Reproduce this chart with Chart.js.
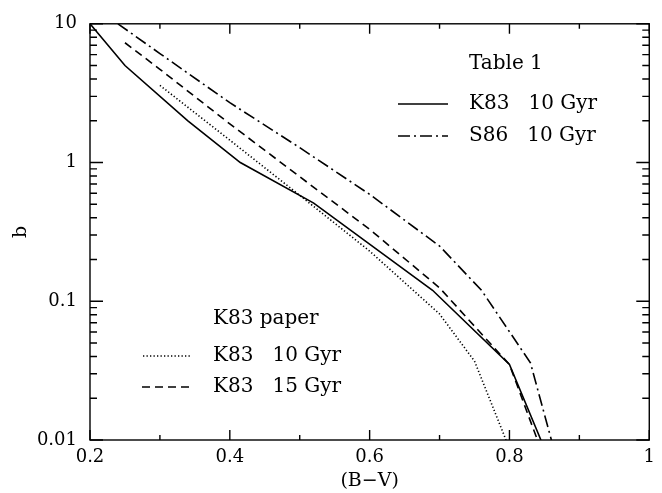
<!DOCTYPE html>
<html><head><meta charset="utf-8">
<script src="https://cdn.jsdelivr.net/npm/chart.js@4/dist/chart.umd.min.js"></script>
<style>html,body{margin:0;padding:0;background:#fff;}#wrap{width:662px;height:493px;position:relative;}</style>
</head><body><div id="wrap"><canvas id="c" width="662" height="493"></canvas></div>
<script>
// ---- data ----
const xTicks = [0.2, 0.4, 0.6, 0.8, 1.0];
const xTickLabels = ["0.2", "0.4", "0.6", "0.8", "1"];
const xMinorTicks = [0.3, 0.5, 0.7, 0.9];
const yTicks = [0.01, 0.1, 1, 10];
const yTickLabels = ["0.01", "0.1", "1", "10"];

// Table 1, K83 10 Gyr (solid)
const bvK83T1 = [0.2, 0.25, 0.34, 0.415, 0.52, 0.69, 0.80, 0.845];
const bK83T1  = [10, 5.0, 2.0, 1.0, 0.51, 0.12, 0.035, 0.01];
// Table 1, S86 10 Gyr (dash-dot)
const bvS86 = [0.24, 0.3, 0.4, 0.5, 0.6, 0.7, 0.76, 0.83, 0.86];
const bS86  = [10, 6.1, 2.7, 1.28, 0.59, 0.25, 0.12, 0.036, 0.01];
// K83 paper, 10 Gyr (dotted)
const bvK83P10 = [0.3, 0.4, 0.5, 0.6, 0.7, 0.75, 0.795];
const bK83P10  = [3.6, 1.45, 0.58, 0.23, 0.081, 0.037, 0.01];
// K83 paper, 15 Gyr (dashed)
const bvK83P15 = [0.25, 0.3, 0.4, 0.5, 0.6, 0.7, 0.8, 0.84];
const bK83P15  = [7.3, 4.7, 1.9, 0.79, 0.33, 0.125, 0.035, 0.01];

const legend1Title = "Table 1";
const legend1Labels = ["K83   10 Gyr", "S86   10 Gyr"];
const legend2Title = "K83 paper";
const legend2Labels = ["K83   10 Gyr", "K83   15 Gyr"];

const xTitle = "(B\u2212V)";
const yTitle = "b";

// ---- styles ----
const FONT = "DejaVu Serif";
const DASH_SOLID = [];
const DASH_DASHDOT = [12, 4, 2, 4];
const DASH_DOT = [1.3, 2.2];
const DASH_DASH = [8, 5];

function pts(xs, ys) { return xs.map((v, i) => ({x: v, y: ys[i]})); }
function ds(label, xs, ys, dash) {
  return {label, data: pts(xs, ys), borderColor: '#000', borderWidth: 1.6, borderDash: dash,
    pointRadius: 0, fill: false, tension: 0};
}

const datasets = [
  ds(legend1Labels[0], bvK83T1, bK83T1, DASH_SOLID),
  ds(legend1Labels[1], bvS86, bS86, DASH_DASHDOT),
  ds(legend2Labels[0], bvK83P10, bK83P10, DASH_DOT),
  ds(legend2Labels[1], bvK83P15, bK83P15, DASH_DASH)
];

const framePlugin = {
  id: 'frame',
  afterDatasetsDraw(chart) {
    const {ctx, chartArea: a, scales: {x, y}} = chart;
    ctx.save();
    ctx.strokeStyle = '#000';
    ctx.lineWidth = 1.4;
    ctx.setLineDash([]);
    ctx.strokeRect(a.left, a.top, a.right - a.left, a.bottom - a.top);
    ctx.beginPath();
    const xt = (v, len) => {
      const p = x.getPixelForValue(v);
      ctx.moveTo(p, a.bottom); ctx.lineTo(p, a.bottom - len);
      ctx.moveTo(p, a.top); ctx.lineTo(p, a.top + len);
    };
    const yt = (v, len) => {
      const p = y.getPixelForValue(v);
      ctx.moveTo(a.left, p); ctx.lineTo(a.left + len, p);
      ctx.moveTo(a.right, p); ctx.lineTo(a.right - len, p);
    };
    xTicks.forEach(v => xt(v, 10));
    xMinorTicks.forEach(v => xt(v, 5));
    yTicks.forEach(v => yt(v, 13));
    for (let i = 0; i < yTicks.length - 1; i++) {
      for (let k = 2; k <= 9; k++) yt(yTicks[i] * k, 7);
    }
    ctx.stroke();

    // in-plot legends
    ctx.fillStyle = '#000';
    ctx.font = '20px "' + FONT + '"';
    ctx.textBaseline = 'middle';
    ctx.textAlign = 'left';
    const row = (d, x0, x1, yy, tx, text) => {
      ctx.beginPath();
      ctx.lineWidth = d.borderWidth;
      ctx.setLineDash(d.borderDash);
      ctx.moveTo(x0, yy); ctx.lineTo(x1, yy);
      ctx.stroke();
      ctx.setLineDash([]);
      ctx.fillText(text, tx, yy);
    };
    ctx.fillText(legend1Title, 469, 64);
    row(chart.data.datasets[0], 398, 448, 104, 469, legend1Labels[0]);
    row(chart.data.datasets[1], 398, 448, 136, 469, legend1Labels[1]);
    ctx.fillText(legend2Title, 213, 319);
    row(chart.data.datasets[2], 143, 190, 356, 213, legend2Labels[0]);
    row(chart.data.datasets[3], 142, 190, 387, 213, legend2Labels[1]);
    ctx.restore();
  }
};

new Chart(document.getElementById('c'), {
  type: 'line',
  data: {datasets},
  options: {
    responsive: false, animation: false, devicePixelRatio: 1,
    layout: {padding: {top: 18, right: 11, left: 0, bottom: 0}},
    plugins: {legend: {display: false}, tooltip: {enabled: false}},
    scales: {
      x: {
        type: 'linear', min: 0.2, max: 1,
        afterBuildTicks: s => { s.ticks = xTicks.map(v => ({value: v})); },
        afterFit: s => { s.height = 53; },
        grid: {display: false, drawTicks: false}, border: {display: false},
        ticks: {color: '#000', font: {family: FONT, size: 18}, padding: 7, maxRotation: 0, autoSkip: false,
          callback: (v, i) => xTickLabels[i]},
        title: {display: true, text: xTitle, color: '#000', font: {family: FONT, size: 19}, padding: {top: 0, bottom: 1}}
      },
      y: {
        type: 'logarithmic', min: 0.01, max: 10,
        afterBuildTicks: s => { s.ticks = yTicks.map(v => ({value: v})); },
        afterFit: s => { s.width = 90; },
        grid: {display: false, drawTicks: false}, border: {display: false},
        ticks: {color: '#000', font: {family: FONT, size: 18}, padding: 13, autoSkip: false,
          callback: (v, i) => yTickLabels[i]},
        title: {display: true, text: yTitle, color: '#000', font: {family: FONT, size: 19}, padding: {top: 10, bottom: 0}}
      }
    }
  },
  plugins: [framePlugin]
});
</script></body></html>
